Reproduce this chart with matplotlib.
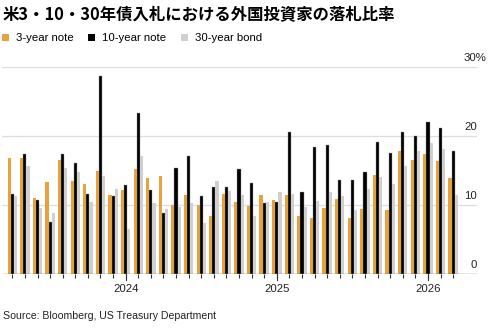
import numpy as np
import matplotlib.pyplot as plt
from matplotlib.patches import Patch
from matplotlib.transforms import blended_transform_factory

# monthly auctions, Apr 2023 - Mar 2026
months = ["2023-04", "2023-05", "2023-06", "2023-07", "2023-08", "2023-09",
          "2023-10", "2023-11", "2023-12", "2024-01", "2024-02", "2024-03",
          "2024-04", "2024-05", "2024-06", "2024-07", "2024-08", "2024-09",
          "2024-10", "2024-11", "2024-12", "2025-01", "2025-02", "2025-03",
          "2025-04", "2025-05", "2025-06", "2025-07", "2025-08", "2025-09",
          "2025-10", "2025-11", "2025-12", "2026-01", "2026-02", "2026-03"]

note_3y = [16.9, 16.9, 11.1, 13.4, 16.6, 13.5, 13.1, 15.0, 11.5, 12.2, 15.3, 13.9,
           14.2, 10.0, 11.5, 10.0, 8.5, 11.6, 10.5, 9.9, 11.5, 10.8, 11.5, 8.5,
           8.2, 9.6, 10.9, 8.2, 9.5, 14.4, 9.3, 17.9, 16.6, 17.5, 16.4, 14.0]
note_10y = [11.6, 17.4, 10.7, 7.6, 17.4, 16.1, 11.6, 28.7, 11.4, 12.9, 23.4, 12.2,
            8.9, 15.4, 17.1, 11.3, 12.6, 12.6, 15.2, 13.2, 10.4, 10.5, 20.6, 11.9,
            18.4, 18.7, 13.6, 13.7, 14.8, 19.2, 17.6, 20.6, 20.0, 22.1, 21.2, 17.8]
bond_30y = [11.3, 15.7, 9.6, 8.9, 15.4, 14.8, 10.5, 14.3, 12.4, 6.6, 17.1, 10.3,
            9.5, 9.7, 10.3, 7.4, 13.5, 12.1, 11.5, 8.5, 10.5, 11.9, 11.6, 9.7,
            10.6, 11.9, 11.4, 9.3, 12.3, 14.1, 13.1, 15.7, 17.8, 19.0, 18.2, 11.5]

series_names = ["3-year note", "10-year note", "30-year bond"]
colors = ["#E9A23B", "#000000", "#CFCFCF"]
year_labels = ["2024", "2025", "2026"]

plt.rcParams["font.family"] = ["Liberation Sans", "DejaVu Sans"]

fig = plt.figure(figsize=(4.99, 3.29), dpi=100)
ax = fig.add_axes([0.004, 0.1663, 0.952, 0.6291])

x = np.arange(len(months))
w = 0.25
ax.bar(x - w, note_3y, w, color=colors[0], linewidth=0, zorder=3)
ax.bar(x, note_10y, w, color=colors[1], edgecolor="#999999", linewidth=0.3, zorder=3)
ax.bar(x + w, bond_30y, w, color=colors[2], linewidth=0, zorder=3)

ax.set_xlim(-0.82, 36.9)
ax.set_ylim(0, 30)

# gridlines
for v in [10, 20, 30]:
    ax.axhline(v, color="#DDDDDD", linewidth=0.9, zorder=1)
ax.axhline(0, color="#333333", linewidth=0.9, zorder=4)

for s in ax.spines.values():
    s.set_visible(False)

# month ticks, longer ticks on January
ax.set_xticks(x)
ax.set_xticklabels([])
ax.tick_params(axis="x", length=3, width=0.8, color="#333333")
ax.set_yticks([])
year_idx = [i for i, m in enumerate(months) if m.endswith("-01")]
trans = blended_transform_factory(ax.transData, ax.transAxes)
for i, lab in zip(year_idx, year_labels):
    ax.plot([i, i], [0, -0.028], transform=trans, color="#333333",
            linewidth=0.8, clip_on=False, zorder=4)
    ax.text(i, -0.045, lab, transform=trans, ha="center", va="top",
            fontsize=8.2, color="#222222")

# y labels above gridlines on the right
ytrans = blended_transform_factory(ax.transAxes, ax.transData)
for v in [0, 10, 20]:
    ax.text(1.0, v + 1.3, str(v), transform=ytrans, ha="right", va="center",
            fontsize=8.2, color="#222222")
ax.text(1.019, 31.3, "30%", transform=ytrans, ha="right", va="center",
        fontsize=8.2, color="#222222", clip_on=False)

fig.text(0.006, 0.955, "米3・10・30年債入札における外国投資家の落札比率",
         fontsize=11.8, fontweight="bold", va="center", ha="left",
         family=["Noto Sans CJK JP", "DejaVu Sans"])

handles = [Patch(facecolor=c, edgecolor="none") for c in colors]
fig.legend(handles, series_names, loc="center left", bbox_to_anchor=(-0.005, 0.884),
           ncol=3, frameon=False, fontsize=8.2, handlelength=0.6, handleheight=0.6,
           handletextpad=0.6, columnspacing=1.3, borderaxespad=0)

fig.text(0.006, 0.04, "Source: Bloomberg, US Treasury Department",
         fontsize=7.6, va="center", ha="left", color="#222222")

fig.savefig("out.png", dpi=100)
